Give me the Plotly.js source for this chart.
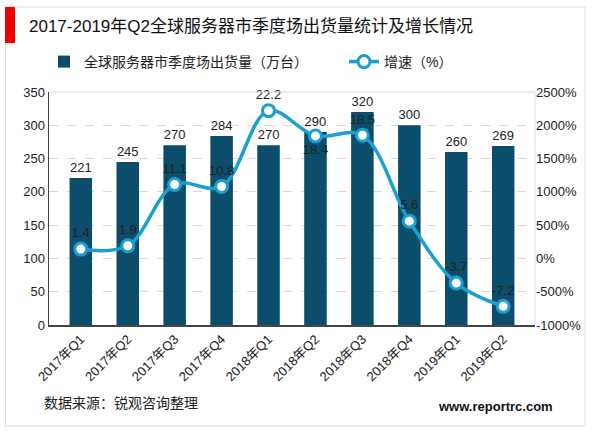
<!DOCTYPE html>
<html><head><meta charset="utf-8">
<script src="https://cdn.plot.ly/plotly-3.0.1.min.js"></script>
<style>html,body{margin:0;padding:0;background:#fff}#c{width:600px;height:433px}</style>
</head><body><div id="c"></div>
<script>
const categories = ["2017年Q1","2017年Q2","2017年Q3","2017年Q4","2018年Q1","2018年Q2","2018年Q3","2018年Q4","2019年Q1","2019年Q2"];
const shipments = [221,245,270,284,270,290,320,300,260,269];
const growth = [1.4,1.9,11.1,10.8,22.2,18.4,18.5,5.6,-3.7,-7.2];
const growthLabelPos = ["top center","top center","top center","top center","top center","bottom center","top center","top center","top center","top center"];
const yTicks = [0,50,100,150,200,250,300,350];
const y2Ticks = [-10,-5,0,5,10,15,20,25];

const FONT = 'Liberation Sans, Arial, "Noto Sans CJK SC", sans-serif';
const L=49, R=535, T=92, B=325, W=R-L, H=B-T;
const px = x => (x-L)/W, py = y => (B-y)/H;

const traces = [
 {type:'bar', x:categories, y:shipments, name:'全球服务器市季度场出货量（万台）', legend:'legend',
  marker:{color:'#0b4d6a'}, text:shipments.map(String), textposition:'outside',
  textfont:{size:13,color:'#222',family:FONT}, cliponaxis:false, hoverinfo:'skip'},
 {type:'scatter', mode:'lines+markers+text', x:categories, y:growth, yaxis:'y2', legend:'legend2',
  name:'增速（%）', line:{color:'#1b9fd0',width:3.5,shape:'spline',smoothing:1},
  marker:{size:12,color:'#ffffff',line:{color:'#1b9fd0',width:3}},
  text:growth.map(String), textposition:growthLabelPos,
  textfont:{size:13,color:'#222',family:FONT}, cliponaxis:false, hoverinfo:'skip'}
];

const legendBase = {orientation:'h', xref:'container', yref:'container', xanchor:'left',
  y:1-62/433, yanchor:'middle', font:{size:14,color:'#222',family:FONT}, bgcolor:'rgba(0,0,0,0)'};

const layout = {
 width:600, height:433, paper_bgcolor:'#fff', plot_bgcolor:'#fff',
 margin:{l:L, r:600-R, t:T, b:433-B},
 font:{family:FONT, size:13, color:'#222'},
 showlegend:true,
 legend:Object.assign({}, legendBase, {x:44/600}),
 legend2:Object.assign({}, legendBase, {x:344/600}),
 bargap:0.52,
 xaxis:{tickmode:'array', tickvals:categories, ticktext:categories, tickangle:-45,
  showline:true, linecolor:'#444', linewidth:1.5, ticks:'', showgrid:false,
  tickfont:{size:13,color:'#222',family:FONT}},
 yaxis:{range:[0,350], tickmode:'array', tickvals:yTicks, showline:true, linecolor:'#444', linewidth:1.5,
  showgrid:true, gridcolor:'#d9d9d9', griddash:'dash', gridwidth:1, zeroline:false,
  tickfont:{size:13,color:'#222',family:FONT}, ticks:'', ticklen:4},
 yaxis2:{range:[-10,25], overlaying:'y', side:'right', tickmode:'array', tickvals:y2Ticks,
  ticktext:y2Ticks.map(v=>(v*100)+'%'), showgrid:false, zeroline:false, showline:false,
  tickfont:{size:13,color:'#222',family:FONT}},
 shapes:[
  {type:'rect', xref:'paper', yref:'paper', x0:px(5.5), x1:px(585), y0:py(7), y1:py(426),
   line:{color:'#dddddd',width:1}, fillcolor:'rgba(0,0,0,0)', layer:'below'},
  {type:'rect', xref:'paper', yref:'paper', x0:px(5), x1:px(15), y0:py(7), y1:py(43),
   line:{width:0}, fillcolor:'#ee0000'},
  {type:'line', xref:'paper', yref:'paper', x0:0, x1:1, y0:1, y1:1, line:{color:'#d9d9d9',width:1}},
  {type:'line', xref:'paper', yref:'paper', x0:1, x1:1, y0:0, y1:1, line:{color:'#d9d9d9',width:1}}
 ],
 annotations:[
  {xref:'paper', yref:'paper', x:px(27), y:py(27), xanchor:'left', yanchor:'middle', showarrow:false,
   text:'2017-2019年Q2全球服务器市季度场出货量统计及增长情况', font:{size:17,color:'#111',family:FONT}},
  {xref:'paper', yref:'paper', x:px(42), y:py(403), xanchor:'left', yanchor:'middle', showarrow:false,
   text:'数据来源：锐观咨询整理', font:{size:14,color:'#222',family:FONT}},
  {xref:'paper', yref:'paper', x:px(555), y:py(406), xanchor:'right', yanchor:'middle', showarrow:false,
   text:'<b>www.reportrc.com</b>', font:{size:13,color:'#111',family:FONT}}
 ]
};
Plotly.newPlot('c', traces, layout, {staticPlot:true, displayModeBar:false});
</script></body></html>
